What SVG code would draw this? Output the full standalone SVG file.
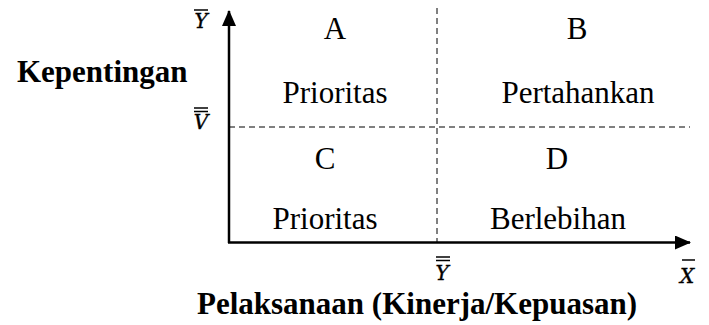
<svg xmlns="http://www.w3.org/2000/svg" width="709" height="325" viewBox="0 0 709 325">
<style>
.q{font-family:"Liberation Serif","Times New Roman",serif;font-size:31px;fill:#000;text-anchor:middle}
.b{font-family:"Liberation Serif","Times New Roman",serif;font-size:31px;font-weight:bold;fill:#000}
.m{font-family:"DejaVu Serif",serif;font-style:italic;font-size:20px;fill:#000;stroke:#000;stroke-width:0.4;text-anchor:middle}
.bar{stroke:#000;stroke-width:1.5}
.axis{stroke:#000;stroke-width:2.5;fill:none}
.dash{stroke:#000;stroke-width:1;stroke-dasharray:6 4;fill:none}
</style>
<defs>
<marker id="ah" viewBox="0 0 16 14" refX="15" refY="7" markerWidth="16" markerHeight="14" markerUnits="userSpaceOnUse" orient="auto">
<path d="M0,0 L16,7 L0,14 Z" fill="#000"/>
</marker>
</defs>
<g id="connectors">
<line class="dash" x1="229" y1="127" x2="690" y2="127"/>
<line class="dash" x1="437" y1="8" x2="437" y2="242"/>
<line class="axis" x1="229" y1="243" x2="229" y2="11" marker-end="url(#ah)"/>
<line class="axis" x1="228" y1="242.5" x2="690" y2="242.5" marker-end="url(#ah)"/>
</g>
<g id="quadrant-A"><text class="q" x="335" y="39">A</text><text class="q" x="335" y="103">Prioritas</text></g>
<g id="quadrant-B"><text class="q" x="577" y="39">B</text><text class="q" x="578" y="103">Pertahankan</text></g>
<g id="quadrant-C"><text class="q" x="325" y="169">C</text><text class="q" x="325" y="229">Prioritas</text></g>
<g id="quadrant-D"><text class="q" x="557" y="169">D</text><text class="q" x="558" y="229">Berlebihan</text></g>
<g id="axis-labels">
<text class="b" x="17" y="82">Kepentingan</text>
<text class="b" x="197" y="314">Pelaksanaan (Kinerja/Kepuasan)</text>
</g>
<g id="label-Ybar">
<text class="m" x="201" y="28">Y</text>
<line class="bar" x1="194" y1="10" x2="208" y2="10"/>
</g>
<g id="label-Vdbar">
<text class="m" x="201" y="129">V</text>
<line class="bar" x1="194" y1="108" x2="208" y2="108"/>
<line class="bar" x1="194" y1="111.5" x2="208" y2="111.5"/>
</g>
<g id="label-Ydbar">
<text class="m" x="442" y="280">Y</text>
<line class="bar" x1="436" y1="257" x2="450" y2="257"/>
<line class="bar" x1="436" y1="260.5" x2="450" y2="260.5"/>
</g>
<g id="label-Xbar">
<text class="m" x="687" y="283">X</text>
<line class="bar" x1="682" y1="260" x2="695" y2="260"/>
</g>
</svg>
